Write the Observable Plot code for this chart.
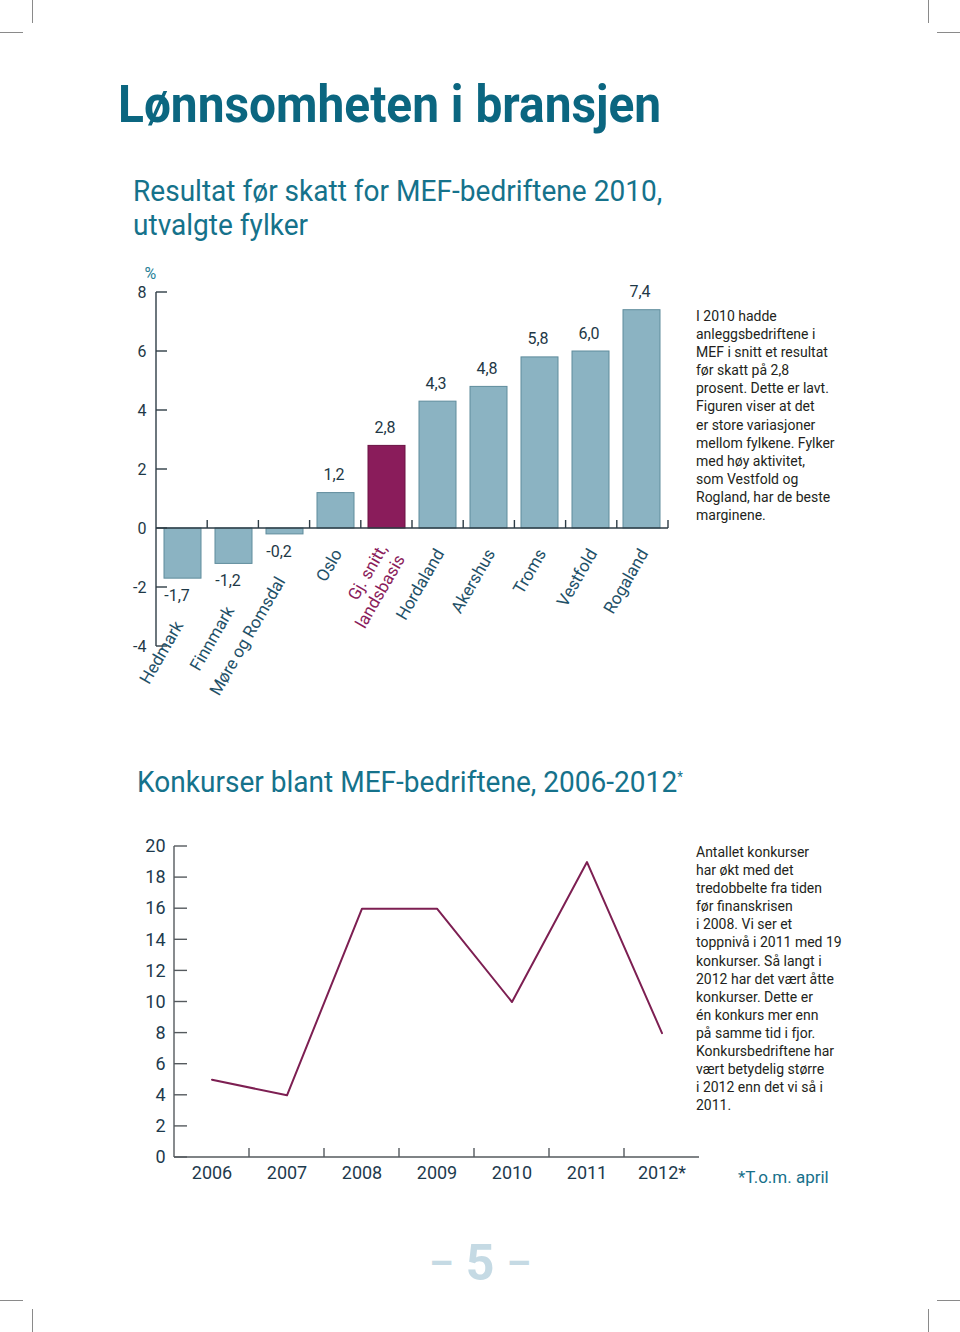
<!DOCTYPE html>
<html>
<head>
<meta charset="utf-8">
<script src="https://cdn.jsdelivr.net/npm/d3@7"></script>
<script src="https://cdn.jsdelivr.net/npm/@observablehq/plot@0.6"></script>
<style>
  body { margin: 0; background: #fff; }
  #page { position: relative; width: 960px; height: 1332px; overflow: hidden; font-family: Roboto, sans-serif; background: #fff; }
  .abs { position: absolute; white-space: nowrap; }
  .title { left: 118px; top: 79px; font-size: 52px; line-height: 52px; font-weight: 700; color: #0b6680; transform: scaleX(0.92); transform-origin: 0 0; }
  .sub { font-size: 30px; line-height: 33px; color: #15728b; transform: scaleX(0.935); transform-origin: 0 0; }
  .note { font-size: 14px; line-height: 18.1px; color: #231f20; }
  .foot { left: 738px; top: 1169px; font-size: 17px; line-height: 17px; color: #17708a; }
  .pnum { left: 0; width: 960px; text-align: center; top: 1238px; font-size: 50px; line-height: 50px; font-weight: 700; color: #c5dae4; }
  .pnum .d { font-size: 38px; position: relative; top: -4px; }
  .crop { position: absolute; background: #8a8a8a; }
  .chart { position: absolute; left: 0; }
</style>
</head>
<body>
<div id="page">
  <div class="crop" style="left:32px;top:0;width:1px;height:23px"></div>
  <div class="crop" style="left:0;top:32px;width:23px;height:1px"></div>
  <div class="crop" style="left:928px;top:0;width:1px;height:23px"></div>
  <div class="crop" style="left:937px;top:32px;width:23px;height:1px"></div>
  <div class="crop" style="left:32px;top:1309px;width:1px;height:23px"></div>
  <div class="crop" style="left:0;top:1300px;width:23px;height:1px"></div>
  <div class="crop" style="left:928px;top:1309px;width:1px;height:23px"></div>
  <div class="crop" style="left:937px;top:1300px;width:23px;height:1px"></div>

  <div class="abs title">Lønnsomheten i bransjen</div>
  <div class="abs sub" style="left:133px;top:174px">Resultat før skatt for MEF-bedriftene 2010,</div>
  <div class="abs sub" style="left:133px;top:208px">utvalgte fylker</div>

  <div class="chart" id="bars" style="top:260px"></div>

  <div class="abs note" style="left:696px;top:307px">I 2010 hadde<br>anleggsbedriftene i<br>MEF i snitt et resultat<br>før skatt på 2,8<br>prosent. Dette er lavt.<br>Figuren viser at det<br>er store variasjoner<br>mellom fylkene. Fylker<br>med høy aktivitet,<br>som Vestfold og<br>Rogland, har de beste<br>marginene.</div>

  <div class="abs sub" style="left:137px;top:765px">Konkurser blant MEF-bedriftene, 2006-2012<sup style="font-size:14px;vertical-align:top;position:relative;top:-4px">*</sup></div>

  <div class="chart" id="line" style="top:830px"></div>

  <div class="abs note" style="left:696px;top:843px">Antallet konkurser<br>har økt med det<br>tredobbelte fra tiden<br>før finanskrisen<br>i 2008. Vi ser et<br>toppnivå i 2011 med 19<br>konkurser. Så langt i<br>2012 har det vært åtte<br>konkurser. Dette er<br>én konkurs mer enn<br>på samme tid i fjor.<br>Konkursbedriftene har<br>vært betydelig større<br>i 2012 enn det vi så i<br>2011.</div>

  <div class="abs foot">*T.o.m. april</div>
  <div class="abs pnum"><span class="d">–</span>&nbsp;5&nbsp;<span class="d">–</span></div>
</div>

<script>
// ---- Data: bar chart ----
const barCategories = ["Hedmark", "Finnmark", "Møre og Romsdal", "Oslo", "Gj. snitt,\nlandsbasis", "Hordaland", "Akershus", "Troms", "Vestfold", "Rogaland"];
const barValues = [-1.7, -1.2, -0.2, 1.2, 2.8, 4.3, 4.8, 5.8, 6.0, 7.4];
const avgCategory = "Gj. snitt,\nlandsbasis";
const barTicks = [-4, -2, 0, 2, 4, 6, 8];

// ---- Data: line chart ----
const years = ["2006", "2007", "2008", "2009", "2010", "2011", "2012*"];
const bankruptcies = [5, 4, 16, 16, 10, 19, 8];
const lineTicks = [0, 2, 4, 6, 8, 10, 12, 14, 16, 18, 20];

const blue = "#8bb3c2", blueStroke = "#5f8c9c";
const magenta = "#8a1c5b", magentaStroke = "#6a1243";
const fmt = v => v.toFixed(1).replace(".", ",");

const barRows = barCategories.map((c, i) => ({c, v: barValues[i]}));
const lineRows = years.map((y, i) => ({year: y, n: bankruptcies[i]}));

function axes({ticks, tickLen, bLen, withEnd, color, n}) {
  return (index, scales, values, dims) => {
    const y = scales.y;
    const L = dims.marginLeft, R = dims.width - dims.marginRight;
    const step = (R - L) / n;
    const g = d3.create("svg:g").attr("stroke", color).attr("stroke-width", 1.4).attr("fill", "none");
    g.append("line").attr("x1", L).attr("x2", L).attr("y1", y(ticks[ticks.length - 1])).attr("y2", y(ticks[0]));
    for (const t of ticks) g.append("line").attr("x1", L).attr("x2", L + tickLen).attr("y1", y(t)).attr("y2", y(t));
    const y0 = y(0);
    g.append("line").attr("x1", L).attr("x2", R).attr("y1", y0).attr("y2", y0);
    const last = withEnd ? n : n - 1;
    for (let i = 1; i <= last; i++) {
      const xx = L + i * step;
      g.append("line").attr("x1", xx).attr("x2", xx).attr("y1", y0).attr("y2", y0 - bLen);
    }
    return g.node();
  };
}

const barChart = Plot.plot({
  width: 700, height: 460,
  marginLeft: 156, marginRight: 32, marginTop: 32, marginBottom: 74,
  style: {fontFamily: "Roboto, sans-serif", fontSize: "16px", color: "#1e3846", background: "transparent", overflow: "visible"},
  x: {type: "band", domain: barCategories, paddingInner: 0.27, paddingOuter: 0.135, axis: null},
  y: {domain: [-4, 8], ticks: barTicks, tickSize: 0, tickPadding: 10, tickFormat: d => String(d), label: null},
  marks: [
    Plot.barY(barRows, {filter: d => d.c !== avgCategory, x: "c", y: "v", fill: blue, stroke: blueStroke, strokeWidth: 1}),
    Plot.barY(barRows, {filter: d => d.c === avgCategory, x: "c", y: "v", fill: magenta, stroke: magentaStroke, strokeWidth: 1}),
    axes({ticks: barTicks, tickLen: 11, bLen: 8, withEnd: true, color: "#2e3d46", n: barCategories.length}),
    // value labels
    Plot.text(barRows, {filter: d => d.v >= 0, x: "c", y: "v", text: d => fmt(d.v), lineAnchor: "bottom", dy: -13, dx: -2, fill: "#1e3846", fontSize: 16}),
    Plot.text(barRows, {filter: d => d.v < 0, x: "c", y: "v", text: d => fmt(d.v), lineAnchor: "top", dy: 11, dx: -6, fill: "#1e3846", fontSize: 16}),
    // category labels
    Plot.text(barRows, {filter: d => d.v >= 0 && d.c !== avgCategory, x: "c", y: d => 0, text: "c", rotate: -60, textAnchor: "end", dx: 2, dy: 22, fill: "#1f5168", fontSize: 17}),
    Plot.text(barRows, {filter: d => d.c === avgCategory, x: "c", y: d => 0, text: "c", rotate: -60, textAnchor: "end", dx: 4, dy: 22, fill: magenta, fontSize: 17, lineHeight: 1.2}),
    Plot.text(barRows, {filter: d => d.v < 0, x: "c", y: "v", text: "c", rotate: -60, textAnchor: "end", dx: -4, dy: 44, fill: "#1f5168", fontSize: 17}),
    Plot.text(["%"], {text: d => d, frameAnchor: "top-left", dx: -12, dy: -25, fill: "#2a7f97", fontSize: 16})
  ]
});
document.getElementById("bars").appendChild(barChart);

const lineChart = Plot.plot({
  width: 720, height: 380,
  marginLeft: 174, marginRight: 21, marginTop: 16, marginBottom: 53,
  style: {fontFamily: "Roboto, sans-serif", fontSize: "18px", color: "#1d3a4d", background: "transparent", overflow: "visible"},
  x: {type: "band", domain: years, padding: 0, tickSize: 0, tickPadding: 9, label: null},
  y: {domain: [0, 20], ticks: lineTicks, tickSize: 0, tickPadding: 9, label: null},
  marks: [
    axes({ticks: lineTicks, tickLen: 13, bLen: 9, withEnd: false, color: "#555a5e", n: years.length}),
    Plot.line(lineRows, {x: "year", y: "n", stroke: "#7d1f52", strokeWidth: 2})
  ]
});
document.getElementById("line").appendChild(lineChart);
</script>
</body>
</html>
